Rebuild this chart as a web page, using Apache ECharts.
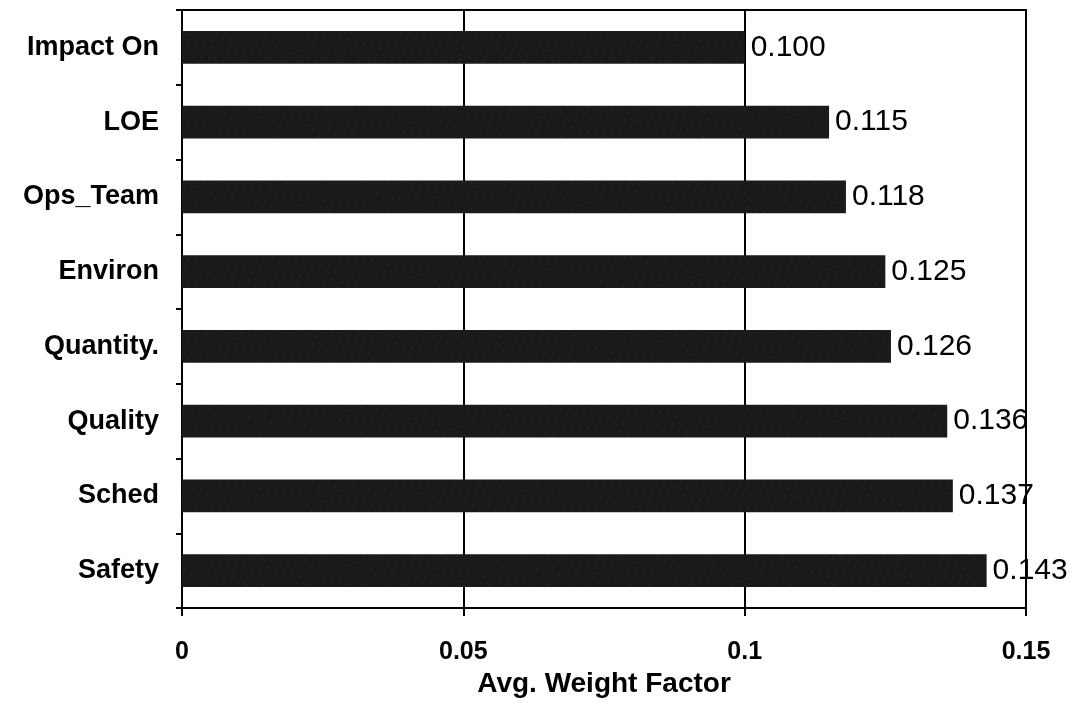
<!DOCTYPE html>
<html>
<head>
<meta charset="utf-8">
<script src="https://cdn.jsdelivr.net/npm/echarts@6/dist/echarts.min.js"></script>
<style>
  html, body { margin: 0; padding: 0; background: #fff; }
  #chart { width: 1078px; height: 726px; }
</style>
</head>
<body>
<div id="chart"></div>
<script>
// categories top to bottom
var categories = ['Impact On', 'LOE', 'Ops_Team', 'Environ', 'Quantity.', 'Quality', 'Sched', 'Safety'];
var weights = [0.100, 0.115, 0.118, 0.125, 0.126, 0.136, 0.137, 0.143];
var xTicks = [0, 0.05, 0.1, 0.15];

var FONT = 'Liberation Sans, Arial, sans-serif';
var myChart = echarts.init(document.getElementById('chart'));

var option = {
  backgroundColor: '#fff',
  animation: false,
  textStyle: { fontFamily: FONT, color: '#000' },
  grid: {
    left: 182, right: 52, top: 10, bottom: 118,
    show: true, borderColor: '#000', borderWidth: 2
  },
  xAxis: {
    type: 'value',
    min: xTicks[0],
    max: xTicks[xTicks.length - 1],
    interval: 0.05,
    name: 'Avg. Weight Factor',
    nameLocation: 'middle',
    nameGap: 56,
    nameTextStyle: { fontSize: 28, fontWeight: 'bold', color: '#000', fontFamily: FONT },
    axisLine: { show: true, lineStyle: { color: '#000', width: 2 } },
    axisTick: { show: true, length: 8, lineStyle: { color: '#000', width: 2 } },
    axisLabel: {
      fontSize: 25, fontWeight: 'bold', color: '#000', margin: 32,
      formatter: function (v) { return String(+v.toFixed(2)); }
    },
    splitLine: { show: true, lineStyle: { color: '#000', width: 2 } }
  },
  yAxis: {
    type: 'category',
    inverse: true,
    data: categories,
    axisLine: { show: true, lineStyle: { color: '#000', width: 2 } },
    axisTick: { show: true, length: 6, lineStyle: { color: '#000', width: 2 } },
    axisLabel: { fontSize: 27, fontWeight: 'bold', color: '#000', margin: 23 }
  },
  series: [{
    type: 'bar',
    data: weights,
    barCategoryGap: '56%',
    itemStyle: {
      color: '#1a1a1a',
      decal: {
        symbol: 'rect',
        symbolSize: 0.6,
        color: 'rgba(200,200,200,0.35)',
        dashArrayX: [1, 7],
        dashArrayY: [1, 5],
        rotation: 0.3
      }
    },
    label: {
      show: true,
      position: 'right',
      distance: 6,
      fontSize: 30,
      color: '#000',
      formatter: function (p) { return p.value.toFixed(3); }
    }
  }]
};

option && myChart.setOption(option);
</script>
</body>
</html>
